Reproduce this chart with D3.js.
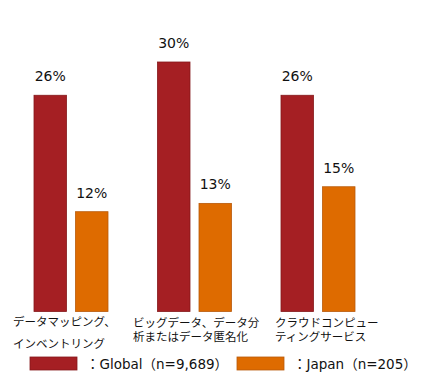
<!DOCTYPE html>
<html>
<head>
<meta charset="utf-8">
<script src="https://cdn.jsdelivr.net/npm/d3@7"></script>
<style>
  body { margin: 0; background: #fff; }
  svg { display: block; font-family: "DejaVu Sans", Verdana, "Noto Sans CJK JP", sans-serif; }
  .val { font-size: 14px; fill: #111; }
  .cat { font-size: 11.5px; fill: #111; font-family: "Noto Sans CJK JP", sans-serif; }
  .leg { font-size: 13.5px; fill: #111; }
</style>
</head>
<body>
<div class="container"></div>
<script>
(function(){
  const categories = ['dm', 'bd', 'cc'];
  const catLabels = [
    ['データマッピング、', 'インベントリング'],
    ['ビッグデータ、データ分', '析またはデータ匿名化'],
    ['クラウドコンピュー', 'ティングサービス']
  ];
  const series = ['Global', 'Japan'];
  const seriesLabels = ['：Global（n=9,689）', '：Japan（n=205）'];
  const globalValues = [26, 30, 26];
  const japanValues = [12, 13, 15];

  const config = {w: 422, h: 387};
  const colors = {Global: '#a51f23', Japan: '#de6b00'};
  const strokes = {Global: '#85181b', Japan: '#b85a0a'};

  const svg = d3.select('.container').append('svg')
    .attr('width', config.w)
    .attr('height', config.h);

  const x0 = d3.scaleBand()
    .domain(categories)
    .range([9.25, 379.75]);

  const x1 = d3.scaleBand()
    .domain(series)
    .range([24.75, 98.75])
    .paddingInner(0.217);

  const y = d3.scaleLinear()
    .domain([0, 30])
    .range([311.5, 62]);

  const rows = categories.map((c, i) => ({
    cat: c,
    values: [{s: 'Global', v: globalValues[i]}, {s: 'Japan', v: japanValues[i]}]
  }));

  const groups = svg.selectAll('g.group')
    .data(rows)
    .enter().append('g')
      .attr('class', 'group')
      .attr('transform', d => `translate(${x0(d.cat)},0)`);

  groups.selectAll('rect')
    .data(d => d.values)
    .enter().append('rect')
      .attr('x', d => x1(d.s))
      .attr('y', d => y(d.v))
      .attr('width', x1.bandwidth())
      .attr('height', d => y(0) - y(d.v))
      .attr('fill', d => colors[d.s])
      .attr('stroke', d => strokes[d.s])
      .attr('stroke-width', 0.8);

  groups.selectAll('text.val')
    .data(d => d.values)
    .enter().append('text')
      .attr('class', 'val')
      .attr('x', d => x1(d.s) + x1.bandwidth() / 2)
      .attr('y', d => y(d.v) - 14)
      .attr('text-anchor', 'middle')
      .text(d => d.v + '%');

  // category labels, left aligned under each group
  const labelX = [13, 133, 275];
  const labelY = [[326, 348], [327, 341], [327, 341]];
  categories.forEach((c, i) => {
    catLabels[i].forEach((line, j) => {
      svg.append('text')
        .attr('class', 'cat')
        .attr('x', labelX[i])
        .attr('y', labelY[i][j])
        .text(line);
    });
  });

  // legend
  const legend = svg.append('g').attr('class', 'legend');
  const legX = [30, 237];
  series.forEach((s, i) => {
    legend.append('rect')
      .attr('x', legX[i])
      .attr('y', 357)
      .attr('width', 47)
      .attr('height', 13)
      .attr('fill', colors[s])
      .attr('stroke', strokes[s])
      .attr('stroke-width', 0.8);
    legend.append('text')
      .attr('class', 'leg')
      .attr('x', legX[i] + 56)
      .attr('y', 368.5)
      .text(seriesLabels[i]);
  });
})();
</script>
</body>
</html>
